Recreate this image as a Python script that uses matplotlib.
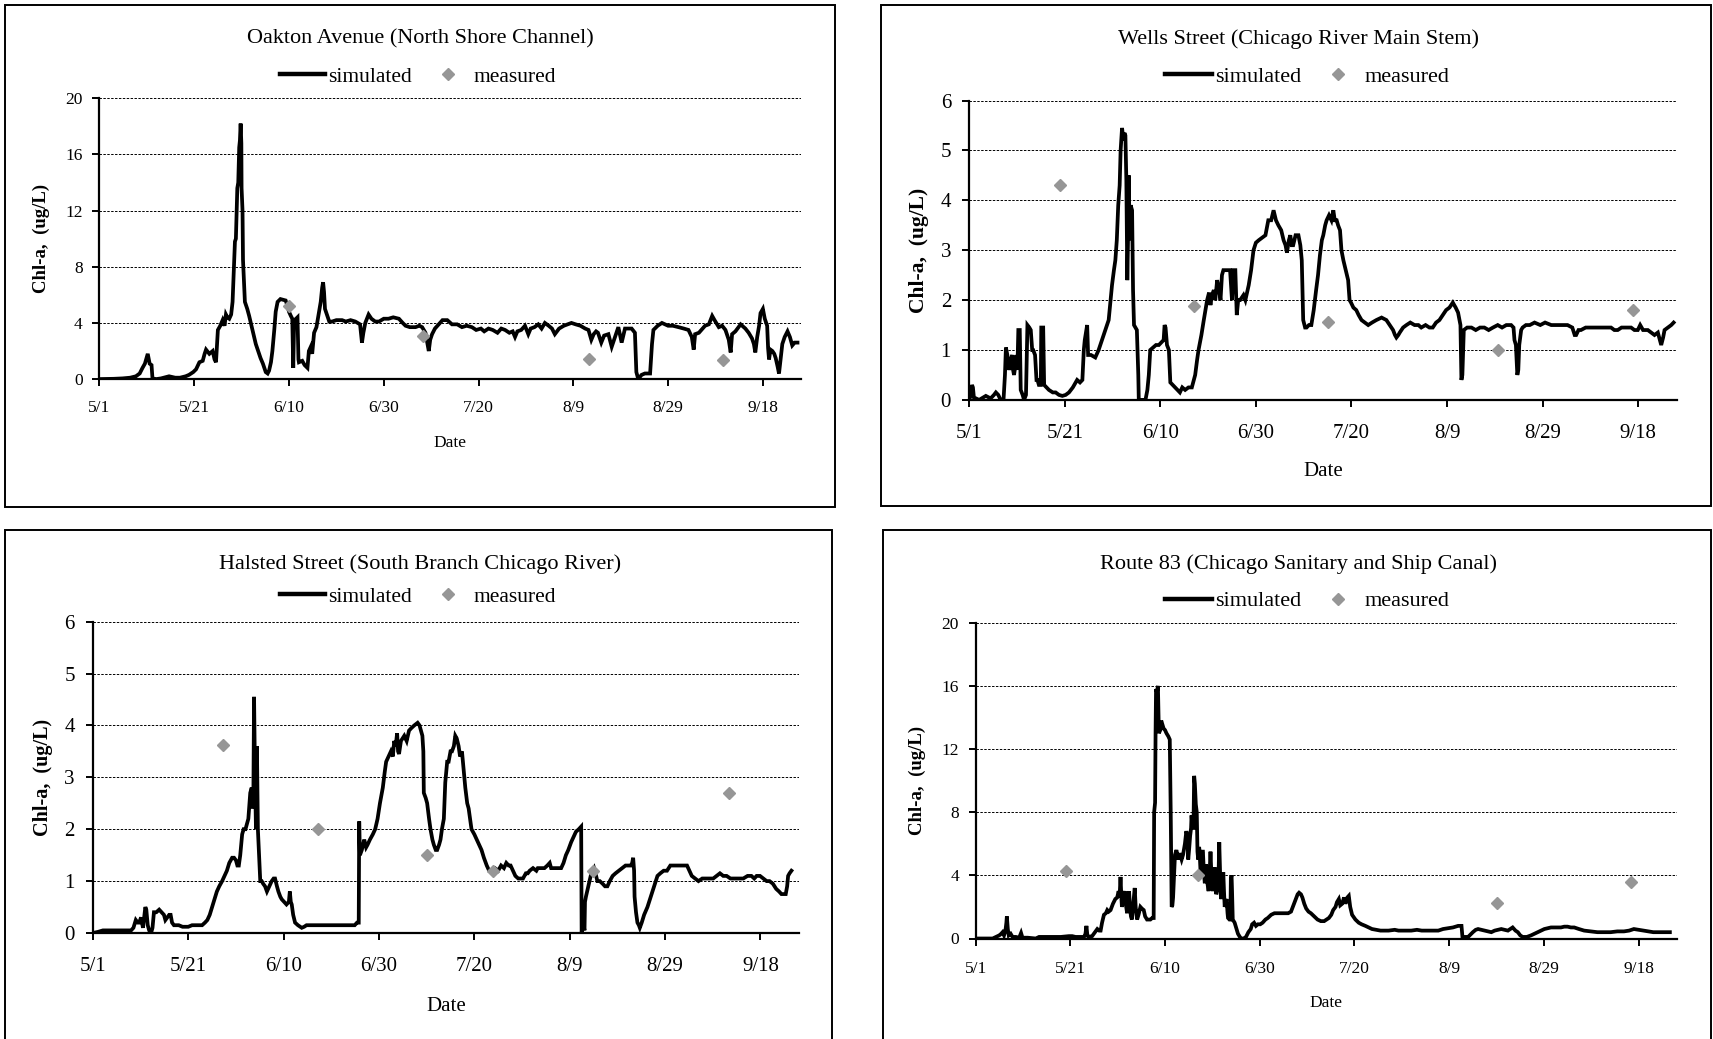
import matplotlib
matplotlib.use('Agg')
import matplotlib.pyplot as plt
from matplotlib.lines import Line2D
from matplotlib.patches import Rectangle

plt.rcParams['font.family'] = ['Liberation Serif', 'DejaVu Serif']

# days since 5/1 for the x axis
tick_days = [0, 20, 40, 60, 80, 100, 120, 140]
tick_labels = ['5/1', '5/21', '6/10', '6/30', '7/20', '8/9', '8/29', '9/18']

titles = ['Oakton Avenue (North Shore Channel)',
          'Wells Street (Chicago River Main Stem)',
          'Halsted Street (South Branch Chicago River)',
          'Route 83 (Chicago Sanitary and Ship Canal)']

# Oakton Avenue
oak_days = [0, 3, 4.9, 6.5, 7.7, 8.5, 9.1, 9.6, 10.2, 10.6, 11.0, 11.2, 12, 13, 14.7, 16, 17, 18.2,
            18.9, 19.8, 20.4, 21.1, 21.8, 22.2, 22.5, 23.2, 23.9, 24.3, 24.6, 25.0, 25.5, 26.0, 26.4,
            26.7, 27.0, 27.4, 27.8, 28.1, 28.4, 28.6, 28.8, 29.1, 29.3, 29.5, 29.65, 29.8, 29.95, 30.0,
            30.2, 30.3, 30.5, 30.7, 31.2, 31.6, 32.3, 33, 33.5, 34, 34.5, 35.1, 35.5, 35.8, 36.2, 36.5,
            36.9, 37.2, 37.6, 38.2, 39.3, 39.7, 40, 40.4, 40.7, 40.9, 41.1, 41.5, 41.8, 42.0, 42.1, 42.8,
            43.3, 43.9, 44.2, 44.6, 44.9, 45.3, 45.8, 46.3, 46.7, 47, 47.2, 47.4, 47.6, 48.1, 48.5, 49.1,
            50, 51.2, 52, 53, 54, 55, 55.4, 55.7, 56.1, 56.8, 57.4, 58.2, 59, 60, 61, 62, 63.2, 64, 64.6,
            65.5, 66.7, 67.5, 68.1, 68.8, 69.5, 69.8, 70.2, 70.8, 71.6, 72.4, 73.4, 74.4, 75.5, 76.5,
            77.5, 78.6, 79.5, 80.5, 81.2, 82.1, 83, 84, 84.8, 85.6, 86.5, 87.2, 87.7, 88.2, 89, 89.8,
            90.5, 91, 91.8, 92.6, 93.3, 94, 94.8, 95.5, 96.1, 97, 98, 99.6, 100.5, 101.5, 102.5, 103.2,
            103.8, 104.3, 104.8, 105.2, 105.9, 106.5, 107.4, 108.1, 108.8, 109.5, 110.2, 110.9, 112.3,
            113, 113.3, 113.7, 114.4, 115.1, 116.2, 116.6, 116.9, 117.8, 118.7, 120, 121, 122.2, 123.3,
            124.3, 125, 125.4, 125.7, 126.5, 127.8, 128.6, 129.3, 129.8, 130.7, 131.4, 132.1, 132.8,
            133.2, 133.5, 134.2, 135.3, 136.3, 137, 137.7, 138.1, 138.4, 138.8, 139.2, 139.5, 140,
            140.4, 140.9, 141.1, 141.3, 141.6, 142, 142.4, 142.7, 143.1, 143.4, 143.7, 144.1, 144.6,
            145.2, 145.7, 146.2, 146.7, 147.3]
oak_sim = [0, 0.02, 0.05, 0.1, 0.2, 0.4, 0.8, 1.1, 1.8, 1.1, 1.0, 0.05, 0.0, 0.05, 0.2, 0.1, 0.1, 0.2,
           0.3, 0.5, 0.7, 1.2, 1.3, 1.8, 2.1, 1.8, 2.0, 1.4, 1.2, 3.5, 3.8, 4.2, 3.8,
           4.6, 4.4, 4.3, 4.6, 5.5, 8.0, 9.8, 10.0, 13.6, 14.0, 16.5, 17.0, 18.2, 16.8, 13.6,
           12.0, 8.5, 7.0, 5.5, 5.0, 4.5, 3.5, 2.5, 2.0, 1.5, 1.1, 0.5, 0.4, 0.6, 1.2, 2.0,
           3.5, 4.8, 5.5, 5.7, 5.6, 5.2, 4.8, 4.5, 4.3, 0.8, 4.2, 4.3, 4.4, 1.4, 1.2, 1.3,
           1.0, 0.8, 2.0, 2.3, 1.8, 3.3, 3.7, 4.7, 5.5, 6.5, 6.9, 6.2, 5.0, 4.5, 4.1, 4.1,
           4.2, 4.2, 4.1, 4.2, 4.1, 3.9, 2.6, 3.3, 4.0, 4.6, 4.3, 4.1, 4.1, 4.3, 4.3, 4.4, 4.3, 4.0, 3.8,
           3.7, 3.7, 3.8, 3.7, 3.3, 2.0, 2.8, 3.2, 3.6, 3.9, 4.2, 4.2, 3.9, 3.9, 3.7,
           3.8, 3.7, 3.5, 3.6, 3.4, 3.6, 3.5, 3.3, 3.6, 3.5, 3.3, 3.4, 3.0, 3.4, 3.5, 3.8,
           3.2, 3.6, 3.7, 3.9, 3.6, 4.0, 3.8, 3.6, 3.2, 3.6, 3.8, 4.0, 3.9, 3.8, 3.6, 3.5,
           2.8, 3.2, 3.4, 3.3, 2.6, 3.1, 3.2, 2.3, 3.0, 3.7, 2.6, 3.6, 3.6,
           3.3, 0.5, 0.0, 0.3, 0.4, 0.4, 2.5, 3.5, 3.8, 4.0, 3.8, 3.8, 3.7, 3.6,
           3.5, 3.0, 2.1, 3.2, 3.3, 3.8, 3.9, 4.5, 4.2, 3.7, 3.8, 3.5, 2.8,
           1.9, 3.2, 3.4, 3.9, 3.6, 3.3, 2.9, 2.5, 1.9, 3.0, 3.8, 4.7, 5.0,
           4.3, 3.8, 2.2, 1.4, 2.1, 2.0, 1.8, 1.5, 0.9, 0.4, 1.3, 2.5, 3.0,
           3.4, 3.0, 2.4, 2.6, 2.6]
oak_meas_days = [40, 68.3, 103.3, 131.6]
oak_meas = [5.24, 3.1, 1.43, 1.38]

# Wells Street
wells_days = [0, 0.4, 0.6, 0.8, 1.0, 2.1, 3, 3.5, 4.5, 5.2, 5.6, 6.1, 6.6, 7.2, 7.5, 7.7, 8.0, 8.4, 8.7,
              9.0, 9.2, 9.4, 9.7, 9.9, 10.1, 10.3, 10.6, 10.8, 11.2, 11.5, 11.9, 12.2, 12.6, 12.9, 13.2,
              13.4, 13.8, 14.1, 14.3, 14.6, 15.0, 15.1, 15.5, 15.7, 16.7, 17.5, 18.1, 18.8, 19.5, 20.2,
              20.9, 21.7, 22.6, 23.2, 23.7, 24.0, 24.2, 24.7, 24.9, 25.5, 26.4, 27.1, 27.8, 28.5, 29.2,
              29.6, 29.9, 30.3, 30.6, 30.9, 31.2, 31.5, 31.7, 32.0, 32.3, 32.5, 32.7, 32.9, 33.1, 33.3,
              33.4, 33.6, 33.8, 34.1, 34.3, 34.5, 35.1, 35.4, 35.5, 36.9, 37.3, 37.6, 37.9, 38.5, 39.1,
              39.7, 40.2, 40.7, 40.9, 41.1, 41.4, 41.8, 42.1, 42.6, 43.1, 43.6, 44.1, 44.6, 45.2, 45.9,
              46.6, 47.3, 47.7, 48, 48.6, 49.1, 49.8, 50.2, 50.5, 50.8, 51.2, 51.5, 51.9, 52.3, 52.6,
              52.9, 53.2, 54.0, 54.6, 55.0, 55.3, 55.7, 56.0, 56.3, 56.7, 57.4, 57.8, 58.5, 59, 59.5,
              60, 60.6, 61.3, 62, 62.6, 63.2, 63.7, 64.2, 64.7, 65.3, 65.8, 66.2, 66.5, 66.9, 67.2,
              67.5, 67.8, 68.3, 68.9, 69.3, 69.6, 69.9, 70.3, 70.6, 71.1, 71.6, 72.1, 72.6, 73.0, 73.4,
              73.8, 74.1, 74.5, 74.8, 75.3, 75.8, 76.2, 76.5, 76.9, 77.2, 77.6, 77.9, 78.3, 78.8, 79.3,
              79.6, 79.9, 80.4, 81, 81.5, 82.1, 82.8, 83.5, 84.3, 85.2, 86.3, 87.3, 88, 88.7, 89.1,
              89.4, 89.8, 90.1, 90.8, 91.5, 92.3, 93.2, 94, 94.6, 95.5, 96.3, 97, 97.7, 98.4, 99.1,
              99.8, 100.5, 101.2, 101.8, 102.3, 102.8, 103.0, 103.2, 103.5, 104.2, 105.1, 106, 106.9,
              107.8, 108.7, 109.6, 110.6, 111.5, 112.4, 113.4, 113.9, 114.1, 114.4, 114.7, 114.9, 115.1,
              115.5, 115.8, 116.5, 117.3, 118.3, 119.5, 120.5, 121.8, 123, 124.2, 125.2, 126.2, 126.7,
              127, 127.5, 128, 129, 130.2, 131.5, 132.8, 134.3, 135, 135.7, 136.5, 137.6, 138.5, 139.2,
              139.9, 140.4, 141, 142, 142.7, 143.4, 144.1, 144.8, 145.2, 145.5, 146.2, 146.9, 147.4]
wells_sim = [0.0, 0.1, 0.3, 0.25, 0.05, 0.0, 0.05, 0.08, 0.03, 0.1, 0.15, 0.1, 0.0, 0.0, 0.5, 1.05, 0.9, 0.6, 0.8,
             0.9, 0.6, 0.5, 0.7, 0.9, 0.6, 1.4, 1.4, 0.2, 0.1, 0.0, 0.1, 1.5, 1.45, 1.4, 1.0,
             1.0, 0.9, 0.4, 0.4, 0.3, 0.3, 1.45, 1.45, 0.3, 0.2, 0.15, 0.15, 0.1, 0.08, 0.1,
             0.15, 0.25, 0.4, 0.35, 0.4, 1.0, 1.2, 1.5, 0.9, 0.9, 0.85, 1.0, 1.2, 1.4, 1.6,
             2.0, 2.3, 2.6, 2.8, 3.2, 3.9, 4.3, 5.0, 5.45, 5.2, 5.35, 5.3, 4.4, 2.4, 3.5,
             4.5, 3.2, 3.9, 3.8, 2.2, 1.5, 1.4, 0.5, 0.0, 0.0, 0.2, 0.5, 1.0, 1.05, 1.1,
             1.1, 1.15, 1.2, 1.5, 1.45, 1.1, 1.0, 0.35, 0.3, 0.25, 0.2, 0.15, 0.25, 0.2, 0.25,
             0.25, 0.5, 0.8, 1.0, 1.3, 1.6, 2.0, 2.15, 1.9, 2.1, 2.2, 2.0, 2.4, 2.2, 2.0,
             2.5, 2.6, 2.6, 2.6, 2.0, 2.6, 2.6, 1.7, 2.0, 2.0, 2.1, 2.0, 2.3, 2.6, 3.0,
             3.15, 3.2, 3.25, 3.3, 3.6, 3.6, 3.8, 3.6, 3.5, 3.4, 3.2, 3.1, 2.95, 3.2, 3.3,
             3.1, 3.1, 3.3, 3.3, 3.1, 2.8, 1.6, 1.45, 1.45, 1.5, 1.5, 1.8, 2.2, 2.5, 2.9,
             3.2, 3.3, 3.5, 3.6, 3.7, 3.6, 3.8, 3.6, 3.6, 3.5, 3.4, 3.0, 2.8, 2.6, 2.4,
             2.0, 1.95, 1.85, 1.8, 1.7, 1.6, 1.55, 1.5, 1.55, 1.6, 1.65, 1.6, 1.5, 1.4, 1.3,
             1.25, 1.3, 1.35, 1.45, 1.5, 1.55, 1.5, 1.5, 1.45, 1.5, 1.45, 1.45, 1.55, 1.6, 1.7,
             1.8, 1.85, 1.95, 1.85, 1.75, 1.5, 0.4, 0.5, 1.4, 1.45, 1.45, 1.4, 1.45,
             1.45, 1.4, 1.45, 1.5, 1.45, 1.5, 1.5, 1.45, 1.2, 1.1, 0.5, 0.6, 1.1,
             1.4, 1.45, 1.5, 1.5, 1.55, 1.5, 1.55, 1.5, 1.5, 1.5, 1.5, 1.45, 1.3,
             1.3, 1.4, 1.4, 1.45, 1.45, 1.45, 1.45, 1.45, 1.4, 1.4, 1.45, 1.45, 1.45, 1.4,
             1.4, 1.5, 1.4, 1.4, 1.35, 1.3, 1.35, 1.1, 1.25, 1.4, 1.45, 1.5, 1.55]
wells_meas_days = [19.0, 47.0, 75.1, 110.6, 138.8]
wells_meas = [4.3, 1.88, 1.57, 1.0, 1.8]

# Halsted Street
hal_days = [0, 1, 2.1, 4, 6, 8, 8.5, 9, 9.4, 9.7, 10.1, 10.5, 11, 11.2, 11.5, 11.8, 12.2, 12.5, 12.8, 13.3,
            13.9, 14.4, 14.9, 15.2, 15.6, 16, 16.3, 16.6, 17, 18, 18.8, 20, 20.8, 22, 22.9, 23.5, 24,
            24.5, 25, 25.5, 26, 26.5, 27.1, 27.6, 28.1, 28.6, 29.2, 29.6, 30, 30.3, 30.6, 30.9, 31.3,
            31.6, 32, 32.3, 32.6, 33, 33.3, 33.5, 33.65, 33.8, 34.0, 34.2, 34.4, 34.6, 34.8, 35.1,
            35.4, 35.7, 36.1, 36.5, 37, 37.5, 37.9, 38.2, 38.6, 38.9, 39.3, 39.6, 40.1, 40.6, 41.1,
            41.3, 41.5, 41.7, 42, 42.4, 43, 43.8, 44.3, 44.8, 46, 48.6, 50, 52.8, 54.9, 55.4, 55.75,
            55.85, 56.0, 56.4, 56.9, 57.3, 57.6, 58.1, 58.7, 59.2, 59.7, 60.2, 60.8, 61.2, 61.5, 62,
            62.5, 62.9, 63.2, 63.5, 63.8, 64, 64.2, 64.6, 65.3, 65.8, 66.3, 66.8, 67.4, 68.1, 68.5,
            68.8, 69.1, 69.3, 69.4, 69.8, 70.1, 70.5, 70.8, 71.2, 71.5, 71.9, 72.2, 72.6, 72.9, 73.2,
            73.6, 73.9, 74.3, 74.6, 75, 75.3, 75.7, 76, 76.3, 76.7, 77, 77.4, 77.7, 78.1, 78.5, 78.8,
            79.1, 79.4, 80, 80.5, 81, 81.5, 82, 82.6, 83.1, 83.6, 84.3, 85, 85.6, 86.2, 86.7, 87.2,
            87.6, 88.1, 88.6, 89.2, 89.7, 90.2, 90.8, 91.2, 91.6, 92.3, 93, 93.3, 94, 94.7, 95.3,
            95.8, 96.1, 96.5, 97.2, 97.8, 98.2, 98.7, 99.2, 99.7, 100.3, 100.8, 101.3, 101.9, 102.4,
            102.5, 102.8, 103.1, 103.2, 103.4, 103.9, 104.4, 104.8, 105.1, 105.4, 105.8, 106.3,
            106.9, 107.4, 107.9, 108.4, 109, 109.6, 110.3, 111, 111.7, 112.3, 112.8, 113.1, 113.3,
            113.5, 113.6, 113.9, 114.2, 114.5, 114.7, 115.1, 115.6, 116.3, 117, 117.7, 118.4, 119,
            119.7, 120.4, 121.1, 122, 123.2, 124.1, 124.6, 125.1, 125.6, 126.3, 127, 127.8, 128.8,
            129.5, 130.1, 130.8, 131.5, 132.2, 132.9, 133.7, 134.6, 135.5, 136.4, 137.3, 138.1,
            138.7, 139.2, 139.9, 140.6, 141.3, 141.9, 142.6, 143.3, 143.9, 144.4, 145, 145.3, 145.6,
            145.8, 146.1, 146.5]
hal_sim = [0.0, 0.02, 0.05, 0.05, 0.05, 0.05, 0.1, 0.25, 0.2, 0.2, 0.3, 0.1, 0.5, 0.45, 0.15, 0.05, 0.0, 0.1, 0.4, 0.4,
           0.45, 0.4, 0.35, 0.25, 0.3, 0.35, 0.35, 0.2, 0.15, 0.15, 0.12, 0.12, 0.15, 0.15, 0.15, 0.2, 0.25,
           0.35, 0.5, 0.65, 0.8, 0.9, 1.0, 1.1, 1.2, 1.35, 1.45, 1.45, 1.4, 1.3, 1.3, 1.5, 1.9,
           2.0, 2.0, 2.1, 2.2, 2.7, 2.8, 2.4, 2.6, 4.55, 3.0, 2.0, 3.6, 2.0, 1.6, 1.0,
           1.0, 0.95, 0.9, 0.8, 0.9, 1.0, 1.05, 1.05, 0.9, 0.8, 0.7, 0.65, 0.6, 0.55, 0.6,
           0.8, 0.6, 0.55, 0.35, 0.2, 0.15, 0.1, 0.12, 0.15, 0.15, 0.15, 0.15, 0.15, 0.15, 0.2, 0.2,
           2.15, 1.5, 1.6, 1.8, 1.65, 1.7, 1.8, 1.9, 2.0, 2.2, 2.5, 2.8, 3.1, 3.3, 3.4,
           3.5, 3.4, 3.7, 3.6, 3.85, 3.5, 3.45, 3.7, 3.8, 3.7, 3.9, 3.95, 4.0, 4.05, 4.0,
           3.9, 3.8, 3.5, 2.7, 2.6, 2.5, 2.2, 2.0, 1.8, 1.7, 1.6, 1.6, 1.7, 1.8, 2.0,
           2.2, 2.9, 3.3, 3.3, 3.5, 3.5, 3.6, 3.8, 3.75, 3.6, 3.4, 3.5, 3.2, 2.8, 2.5, 2.4,
           2.2, 2.0, 1.9, 1.8, 1.7, 1.6, 1.45, 1.3, 1.2, 1.2, 1.25, 1.2, 1.3, 1.25, 1.35, 1.3,
           1.3, 1.2, 1.1, 1.05, 1.05, 1.05, 1.15, 1.15, 1.2, 1.25, 1.2, 1.25, 1.25, 1.25, 1.3,
           1.35, 1.25, 1.25, 1.25, 1.25, 1.25, 1.35, 1.5, 1.6, 1.75, 1.85, 1.95, 2.0, 2.05,
           0.0, 0.2, 0.05, 0.6, 0.7, 0.9, 1.1, 1.2, 1.25, 1.15, 1.0, 1.0,
           0.95, 0.9, 0.9, 1.0, 1.1, 1.15, 1.2, 1.25, 1.3, 1.3, 1.3, 1.35, 1.45,
           1.2, 0.7, 0.4, 0.2, 0.15, 0.1, 0.2, 0.35, 0.5, 0.7, 0.9, 1.1, 1.15,
           1.2, 1.2, 1.3, 1.3, 1.3, 1.3, 1.3, 1.2, 1.1, 1.05, 1.0, 1.05, 1.05,
           1.05, 1.05, 1.1, 1.15, 1.1, 1.1, 1.05, 1.05, 1.05, 1.05, 1.1, 1.1,
           1.05, 1.1, 1.1, 1.05, 1.0, 1.0, 0.95, 0.85, 0.8, 0.75, 0.75, 0.75, 0.9,
           1.1, 1.15, 1.2]
hal_meas_days = [27.3, 47.2, 70.0, 84.0, 104.8, 133.3]
hal_meas = [3.62, 2.0, 1.51, 1.2, 1.2, 2.7]

# Route 83
r83_days = [0, 2, 3.6, 4.3, 5, 5.4, 5.7, 6.0, 6.3, 6.5, 6.6, 6.8, 7.0, 7.4, 7.8, 8.5, 9.2, 9.6, 9.9, 11,
            12.7, 13.4, 15, 16.2, 18, 19.7, 20.4, 21.1, 22, 22.9, 23.2, 23.4, 23.6, 23.8, 24.6, 25.2,
            25.7, 26.1, 26.4, 26.7, 27.1, 27.5, 27.8, 28.1, 28.5, 29, 29.5, 29.9, 30.2, 30.4, 30.6,
            30.8, 30.9, 31.2, 31.5, 31.7, 32, 32.2, 32.4, 32.6, 32.8, 33, 33.3, 33.6, 33.8, 34.1, 34.4,
            34.8, 35.1, 35.5, 35.8, 36.2, 36.6, 36.9, 37.3, 37.6, 37.7, 37.9, 38.0, 38.1, 38.3, 38.5,
            38.6, 38.7, 39.0, 39.2, 39.5, 39.7, 40.0, 40.3, 40.7, 41, 41.2, 41.4, 41.55, 41.7, 41.9,
            42.1, 42.4, 42.8, 43.1, 43.5, 43.8, 44.2, 44.5, 44.7, 44.9, 45.1, 45.3, 45.5, 45.6, 45.8,
            46.0, 46.15, 46.3, 46.5, 46.7, 46.85, 47, 47.2, 47.3, 47.5, 47.7, 47.85, 48, 48.2, 48.4,
            48.55, 48.7, 48.9, 49.2, 49.4, 49.6, 49.8, 50.1, 50.3, 50.5, 50.7, 50.8, 51.1, 51.3, 51.45,
            51.6, 51.75, 51.9, 52.1, 52.3, 52.45, 52.6, 52.8, 53, 53.2, 53.3, 53.6, 53.8, 53.9, 54.05,
            54.15, 54.3, 54.7, 55.0, 55.4, 55.8, 56.1, 56.6, 57.1, 57.6, 58.1, 58.4, 58.8, 59.2, 59.6,
            60.1, 60.6, 61.2, 61.7, 62.4, 63.1, 64, 65.2, 66, 66.6, 67.1, 67.6, 68, 68.3, 68.7, 69,
            69.4, 69.8, 70.3, 70.8, 71.5, 72.2, 72.9, 73.6, 74.1, 74.6, 75.1, 75.5, 76, 76.3, 76.7,
            77, 77.4, 77.8, 78.1, 78.5, 78.8, 79.1, 79.5, 80.2, 80.9, 81.5, 82.3, 83, 83.7, 84.6, 85.5,
            86.3, 87.2, 88.5, 89.3, 90.7, 92, 93.2, 94.2, 95.5, 96.8, 97.7, 98.7, 99.8, 100.8, 101.9,
            102.6, 102.8, 103.4, 104, 104.5, 105, 105.6, 106.1, 106.8, 107.5, 108.2, 108.9, 109.6,
            110.3, 111, 111.7, 112.4, 112.9, 113.4, 114, 114.5, 115, 115.5, 116.4, 117.3, 118, 118.7,
            119.4, 120.1, 120.8, 121.5, 122.5, 123.6, 124.3, 125, 125.7, 126.4, 127.4, 128.5, 129.9,
            131.3, 132.7, 134.1, 135.5, 136.9, 138, 139, 140, 141.1, 142.1, 143.1, 144.8, 146.6]
r83_sim = [0, 0.0, 0.0, 0.1, 0.2, 0.3, 0.4, 0.2, 0.5, 1.0, 1.4, 0.6, 0.2, 0.3, 0.1, 0.1, 0.05, 0.35, 0.05, 0.05,
           0.0, 0.1, 0.1, 0.1, 0.1, 0.15, 0.15, 0.1, 0.1, 0.1, 0.3, 0.8, 0.2, 0.1, 0.15, 0.4,
           0.6, 0.5, 0.5, 1.0, 1.5, 1.6, 1.8, 1.7, 1.8, 2.2, 2.5, 2.6, 3.0, 2.6, 3.9,
           2.5, 2.0, 2.6, 3.0, 2.2, 1.6, 2.4, 3.0, 2.0, 1.4, 1.2, 2.2, 3.2, 2.0, 1.2, 1.5,
           2.0, 1.9, 1.8, 1.4, 1.2, 1.2, 1.2, 1.3, 1.3, 8.0, 8.6, 13.0, 15.8, 15.6, 16.0,
           14.5, 13.0, 13.2, 13.8, 13.5, 13.3, 13.2, 13.0, 12.8, 12.6, 8.0, 2.0, 2.1, 2.6, 4.0,
           5.3, 5.6, 5.0, 5.4, 5.0, 5.3, 6.0, 6.8, 6.5, 5.0, 5.7, 6.5, 7.0, 7.8, 7.0,
           7.0, 10.3, 9.8, 8.5, 8.0, 5.5, 5.0, 5.8, 5.5, 4.2, 4.0, 5.5, 5.5, 4.2, 3.5,
           4.6, 4.6, 3.6, 3.0, 4.0, 5.5, 4.0, 3.0, 3.5, 4.5, 3.8, 2.8, 3.2, 4.0, 6.1,
           4.5, 2.8, 2.5, 3.5, 4.2, 3.0, 2.0, 2.3, 2.5, 1.6, 1.3, 1.2, 1.2, 3.8, 4.0,
           3.0, 1.2, 1.0, 0.7, 0.3, 0.1, 0.0, 0.0, 0.1, 0.4, 0.6, 0.9, 1.0, 0.8, 0.9,
           0.9, 1.0, 1.2, 1.3, 1.5, 1.6, 1.6, 1.6, 1.6, 1.7, 2.1, 2.5, 2.8, 2.9, 2.8, 2.6,
           2.2, 1.9, 1.7, 1.6, 1.4, 1.2, 1.1, 1.1, 1.2, 1.3, 1.5, 1.8, 2.0, 2.3, 2.5,
           2.1, 2.2, 2.6, 2.2, 2.6, 2.7, 2.0, 1.5, 1.2, 1.0, 0.9, 0.8, 0.7, 0.6, 0.55, 0.5,
           0.5, 0.5, 0.55, 0.5, 0.5, 0.5, 0.55, 0.5, 0.5, 0.5, 0.5, 0.6, 0.65, 0.7, 0.8,
           0.8, 0.1, 0.1, 0.1, 0.25, 0.4, 0.55, 0.6, 0.55, 0.5, 0.45, 0.4, 0.5,
           0.55, 0.6, 0.55, 0.5, 0.6, 0.7, 0.5, 0.4, 0.2, 0.1, 0.1, 0.2, 0.3, 0.4,
           0.5, 0.6, 0.65, 0.7, 0.7, 0.7, 0.75, 0.75, 0.7, 0.7, 0.6, 0.5, 0.45,
           0.4, 0.4, 0.4, 0.45, 0.45, 0.5, 0.6, 0.55, 0.5, 0.45, 0.4, 0.4, 0.4]
r83_meas_days = [19.0, 47.0, 110.1, 138.3]
r83_meas = [4.26, 4.05, 2.25, 3.6]

W, H = 1713, 1039
fig = plt.figure(figsize=(W / 100, H / 100), dpi=100)


def px_axes(l, t, r, b):
    return fig.add_axes([l / W, 1 - b / H, (r - l) / W, (b - t) / H])


def panel(ax, days, sim, mdays, meas, ymax, ystep, title, title_xy, leg_xy,
          tick_fs, leg_fs, ylab_fs, xlab_y, ylab_x, xpad, ypad):
    ax.plot(days, sim, color='black', lw=2.7, solid_joinstyle='miter')
    ax.plot(mdays, meas, ls='none', marker='D', ms=6.5, color='#969696', mec='#969696')
    ax.set_xlim(0, 148)
    ax.set_ylim(0, ymax)
    ax.set_xticks(tick_days)
    ax.set_xticklabels(tick_labels)
    ax.set_yticks(range(0, ymax + 1, ystep))
    for s in ['top', 'right']:
        ax.spines[s].set_visible(False)
    for s in ['left', 'bottom']:
        ax.spines[s].set_linewidth(1.6)
    ax.tick_params(axis='both', direction='out', length=5, width=1.4, labelsize=tick_fs)
    ax.tick_params(axis='x', pad=xpad)
    ax.tick_params(axis='y', pad=ypad)
    ax.yaxis.grid(True, color='black', lw=0.7, linestyle=(0, (2.5, 1.5)))
    ax.set_axisbelow(True)
    ax.set_xlabel('Date', fontsize=tick_fs)
    ax.xaxis.set_label_coords(0.5, xlab_y)
    ax.xaxis.label.set_va('center')
    ax.set_ylabel('Chl-a,  (ug/L)', fontsize=ylab_fs, fontweight='bold')
    ax.yaxis.set_label_coords(ylab_x, 0.5)
    ax.yaxis.label.set_va('center')
    fig.text(title_xy[0] / W, 1 - title_xy[1] / H, title, fontsize=16, ha='center', va='center')
    handles = [Line2D([], [], color='black', lw=3.2),
               Line2D([], [], ls='none', marker='D', ms=6.5, color='#969696')]
    ax.legend(handles, ['simulated', 'measured'], loc='center',
              bbox_to_anchor=(leg_xy[0] / W, 1 - leg_xy[1] / H), bbox_transform=fig.transFigure,
              ncol=2, frameon=False, fontsize=leg_fs, handlelength=2.1, handletextpad=0.15,
              columnspacing=0.6, borderaxespad=0)


ax1 = px_axes(99.4, 98.3, 800.8, 379.1)
panel(ax1, oak_days, oak_sim, oak_meas_days, oak_meas, 20, 4, titles[0], (420, 39), (418, 76.5),
      12.5, 15.5, 13.5, -64 / 281, -58 / 701, 10, 7)

ax2 = px_axes(969.1, 100.5, 1676.5, 399.9)
panel(ax2, wells_days, wells_sim, wells_meas_days, wells_meas, 6, 1, titles[1], (1298, 39), (1307, 76.5),
      15, 16, 15.5, -72 / 299, -50 / 707, 12, 8)

ax3 = px_axes(92.9, 621.6, 798.6, 933.0)
panel(ax3, hal_days, hal_sim, hal_meas_days, hal_meas, 6, 1, titles[2], (420, 564), (418, 596.5),
      15, 15.5, 14.5, -73 / 311, -50 / 706, 12, 8)

ax4 = px_axes(975.6, 622.7, 1676.5, 938.5)
panel(ax4, r83_days, r83_sim, r83_meas_days, r83_meas, 20, 4, titles[3], (1298, 564), (1307, 601),
      12.5, 16, 13.5, -65 / 316, -58 / 701, 11, 7)

# frames around each panel
for l, t, r, b in [(5, 5, 835, 507), (881, 5, 1711, 506), (5, 530, 832, 1050), (883, 530, 1711, 1050)]:
    fig.add_artist(Rectangle((l / W, 1 - b / H), (r - l) / W, (b - t) / H, transform=fig.transFigure,
                             fill=False, edgecolor='black', lw=1.4))

fig.savefig('out.png', dpi=100)
